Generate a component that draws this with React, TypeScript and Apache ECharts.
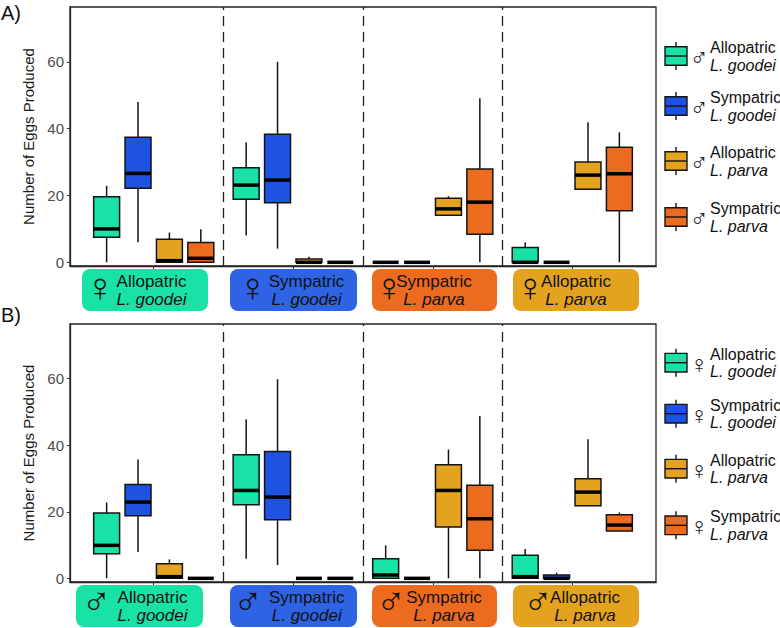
import React, { useEffect, useRef } from "react";
import * as echarts from "echarts";

// ---- data: [min, q1, median, q3, max] per category (4 categories) ----
const A_alloGoodei = [[0, 7.5, 10.0, 19.6, 22.9], [8.0, 18.9, 23.1, 28.3, 35.9], [0, 0, 0, 0, 0], [0, 0, 0, 4.4, 5.9]];
const A_sympGoodei = [[6.0, 22.2, 26.6, 37.4, 48.0], [4.1, 17.8, 24.6, 38.3, 60.0], [0, 0, 0, 0, 0], [0, 0, 0, 0, 0]];
const A_alloParva = [[0, 0, 0.5, 6.9, 8.9], [0, 0, 0, 1.0, 1.7], [14.1, 14.1, 16.0, 19.2, 19.8], [21.9, 21.9, 26.1, 30.0, 41.9]];
const A_sympParva = [[0, 0, 1.2, 5.9, 9.9], [0, 0, 0, 0, 0], [0, 8.4, 18.0, 27.9, 49.1], [0, 15.4, 26.5, 34.4, 38.9]];

const B_alloGoodei = [[0, 7.4, 9.9, 19.6, 22.8], [5.9, 22.1, 26.4, 37.1, 47.8], [0, 0, 1.0, 5.9, 9.9], [0, 0, 0.5, 6.9, 8.8]];
const B_sympGoodei = [[7.9, 18.8, 22.9, 28.2, 35.7], [4.0, 17.6, 24.4, 38.1, 59.8], [0, 0, 0, 0, 0], [0, 0, 0, 1.0, 1.7]];
const B_alloParva = [[0, 0, 0.5, 4.4, 5.7], [0, 0, 0, 0, 0], [0, 15.4, 26.4, 34.1, 38.7], [21.8, 21.8, 25.9, 29.9, 41.8]];
const B_sympParva = [[0, 0, 0, 0, 0], [0, 0, 0, 0, 0], [0, 8.4, 17.9, 28.0, 48.8], [14.2, 14.2, 16.0, 19.1, 19.8]];

const categoryIndex = [1, 2, 3, 4];
const groupStatus = ["Allopatric", "Sympatric", "Sympatric", "Allopatric"];
const groupSpecies = ["L. goodei", "L. goodei", "L. parva", "L. parva"];
const legendStatus = ["Allopatric", "Sympatric", "Allopatric", "Sympatric"];
const legendSpecies = ["L. goodei", "L. goodei", "L. parva", "L. parva"];
const yTicks = [0, 20, 40, 60];
const dividers = [1.5, 2.5, 3.5];

// ---- styles ----
const TEAL = "#19E2A6";
const BLUE = "#1D52E2";
const GOLD = "#E3A31F";
const ORANGE = "#EC6B1E";
const seriesColors = [TEAL, BLUE, GOLD, ORANGE];
const labelColors = [TEAL, "#2E63E3", ORANGE, GOLD];
const FONT = "'Liberation Sans', Arial, sans-serif";
const SYM_FONT = "'Liberation Sans', 'DejaVu Sans', sans-serif";
const INK = "#141414";

const SLOT = 0.225;
const HALF = 0.093;

function makeRender(slot: number, color: string) {
  return (params: any, api: any) => {
    const x = api.value(0) + (slot - 1.5) * SLOT;
    const lo = api.coord([x, api.value(1)]);
    const q1 = api.coord([x, api.value(2)]);
    const md = api.coord([x, api.value(3)]);
    const q3 = api.coord([x, api.value(4)]);
    const hi = api.coord([x, api.value(5)]);
    const hw = api.size([HALF, 0])[0];
    const children: any[] = [];
    if (hi[1] < q3[1] - 0.5)
      children.push({ type: "line", shape: { x1: hi[0], y1: hi[1], x2: q3[0], y2: q3[1] }, style: { stroke: INK, lineWidth: 1.5 } });
    if (lo[1] > q1[1] + 0.5)
      children.push({ type: "line", shape: { x1: q1[0], y1: q1[1], x2: lo[0], y2: lo[1] }, style: { stroke: INK, lineWidth: 1.5 } });
    if (q1[1] - q3[1] > 0.5)
      children.push({ type: "rect", shape: { x: q3[0] - hw, y: q3[1], width: 2 * hw, height: q1[1] - q3[1] }, style: { fill: color, stroke: INK, lineWidth: 1.5 } });
    children.push({ type: "line", shape: { x1: md[0] - hw, y1: md[1], x2: md[0] + hw, y2: md[1] }, style: { stroke: "#000", lineWidth: 3.5 } });
    return { type: "group", children };
  };
}

function seriesFor(gridIdx: number, sets: number[][][]) {
  return sets.map((arr, s) => ({
    type: "custom",
    xAxisIndex: gridIdx,
    yAxisIndex: gridIdx,
    renderItem: makeRender(s, seriesColors[s]),
    encode: { x: 0, y: [1, 2, 3, 4, 5] },
    data: arr.map((d, i) => [categoryIndex[i], ...d]),
    clip: false,
    z: 3,
    markLine:
      s === 0
        ? {
            silent: true,
            symbol: ["none", "none"],
            label: { show: false },
            lineStyle: { type: [10, 6], color: "#222", width: 1.3 },
            data: dividers.map((v) => ({ xAxis: v })),
          }
        : undefined,
  }));
}

function txt(x: number, y: number, text: string, size: number, opts: any = {}) {
  return {
    type: "text",
    x,
    y,
    silent: true,
    style: {
      text,
      fill: opts.fill || INK,
      fontSize: size,
      fontFamily: opts.family || FONT,
      fontStyle: opts.italic ? "italic" : "normal",
      align: opts.align || "center",
      verticalAlign: "middle",
      textAlign: opts.align || "center",
      textVerticalAlign: "middle",
    },
  };
}

// label-box layout (pixels)
const boxesA = [
  { x0: 82, x1: 208, sym: 100, txt: 151.5 },
  { x0: 230, x1: 357, sym: 252.5, txt: 306.5 },
  { x0: 372, x1: 497, sym: 389, txt: 434 },
  { x0: 513, x1: 639, sym: 530, txt: 576 },
];
const boxesB = [
  { x0: 76, x1: 203, sym: 96.5, txt: 152.5 },
  { x0: 230, x1: 357, sym: 248, txt: 306.7 },
  { x0: 372, x1: 497, sym: 391, txt: 444 },
  { x0: 513, x1: 639, sym: 538, txt: 585 },
];

function groupLabels(boxes: any[], top: number, sym: string, symDy: number, symSize: number) {
  const out: any[] = [];
  boxes.forEach((b, i) => {
    out.push({
      type: "rect",
      shape: { x: b.x0, y: top, width: b.x1 - b.x0, height: 42, r: 8 },
      style: { fill: labelColors[i] },
      silent: true,
    });
    out.push(txt(b.sym, top + symDy, sym, symSize, { family: SYM_FONT, fill: "#111" }));
    out.push(txt(b.txt, top + 12, groupStatus[i], 17, { fill: "#111" }));
    out.push(txt(b.txt, top + 30.5, groupSpecies[i], 17, { italic: true, fill: "#111" }));
  });
  return out;
}

function legend(centers: number[], sym: string) {
  const out: any[] = [];
  centers.forEach((cy, i) => {
    const x0 = 665, w = 22;
    out.push({ type: "line", shape: { x1: x0 + w / 2, y1: cy - 14, x2: x0 + w / 2, y2: cy + 14 }, style: { stroke: INK, lineWidth: 1.4 }, silent: true });
    out.push({ type: "rect", shape: { x: x0, y: cy - 9.3, width: w, height: 18.6 }, style: { fill: seriesColors[i], stroke: INK, lineWidth: 1.4 }, silent: true });
    out.push({ type: "line", shape: { x1: x0, y1: cy, x2: x0 + w, y2: cy }, style: { stroke: INK, lineWidth: 1.4 }, silent: true });
    out.push(txt(699, cy + 1, sym, 25, { family: SYM_FONT, fill: "#222" }));
    out.push(txt(710, cy - 8.5, legendStatus[i], 16, { align: "left", fill: "#111" }));
    out.push(txt(710, cy + 9, legendSpecies[i], 16, { align: "left", italic: true, fill: "#111" }));
  });
  return out;
}

function yAxis(gridIndex: number) {
  return {
    type: "value",
    gridIndex,
    min: -1.1,
    max: 76.4,
    splitLine: { show: false },
    axisLine: { show: true, lineStyle: { color: "#222", width: 1.3 } },
    axisTick: { show: true, length: 3, customValues: yTicks, lineStyle: { color: "#333" } },
    axisLabel: { customValues: yTicks, color: "#4D4D4D", fontSize: 15, fontFamily: FONT, margin: 6 },
    name: "Number of Eggs Produced",
    nameLocation: "middle",
    nameRotate: 90,
    nameGap: 31,
    nameTextStyle: { color: "#1a1a1a", fontSize: 15, fontFamily: FONT },
  };
}

function xAxis(gridIndex: number) {
  return {
    type: "value",
    gridIndex,
    min: 0.4,
    max: 4.6,
    splitLine: { show: false },
    axisLine: { show: true, onZero: false, lineStyle: { color: "#222", width: 1.3 } },
    axisTick: { show: true, length: 3, customValues: categoryIndex, lineStyle: { color: "#333" } },
    axisLabel: { show: false },
  };
}

export default function App() {
  const ref = useRef<HTMLDivElement>(null);
  useEffect(() => {
    if (!ref.current) return;
    const chart = echarts.init(ref.current, null, { renderer: "svg" });
    chart.setOption({
      animation: false,
      backgroundColor: "#fff",
      grid: [
        { left: 70, top: 7, width: 586, height: 259, show: true, borderColor: "#222", borderWidth: 1.3, backgroundColor: "transparent" },
        { left: 70, top: 324, width: 586, height: 258, show: true, borderColor: "#222", borderWidth: 1.3, backgroundColor: "transparent" },
      ],
      xAxis: [xAxis(0), xAxis(1)],
      yAxis: [yAxis(0), yAxis(1)],
      series: [
        ...seriesFor(0, [A_alloGoodei, A_sympGoodei, A_alloParva, A_sympParva]),
        ...seriesFor(1, [B_alloGoodei, B_sympGoodei, B_alloParva, B_sympParva]),
      ],
      graphic: [
        txt(1, 13, "A)", 20, { align: "left", fill: "#111" }),
        txt(1, 315, "B)", 20, { align: "left", fill: "#111" }),
        ...groupLabels(boxesA, 269, "\u2640", 18, 40),
        ...groupLabels(boxesB, 585, "\u2642", 16, 40),
        ...legend([56, 106, 161, 217], "\u2642"),
        ...legend([362.7, 413.7, 468.7, 525.3], "\u2640"),
      ],
    });
    return () => chart.dispose();
  }, []);
  return <div ref={ref} style={{ position: "absolute", left: 0, top: 0, width: 780, height: 628 }} />;
}
